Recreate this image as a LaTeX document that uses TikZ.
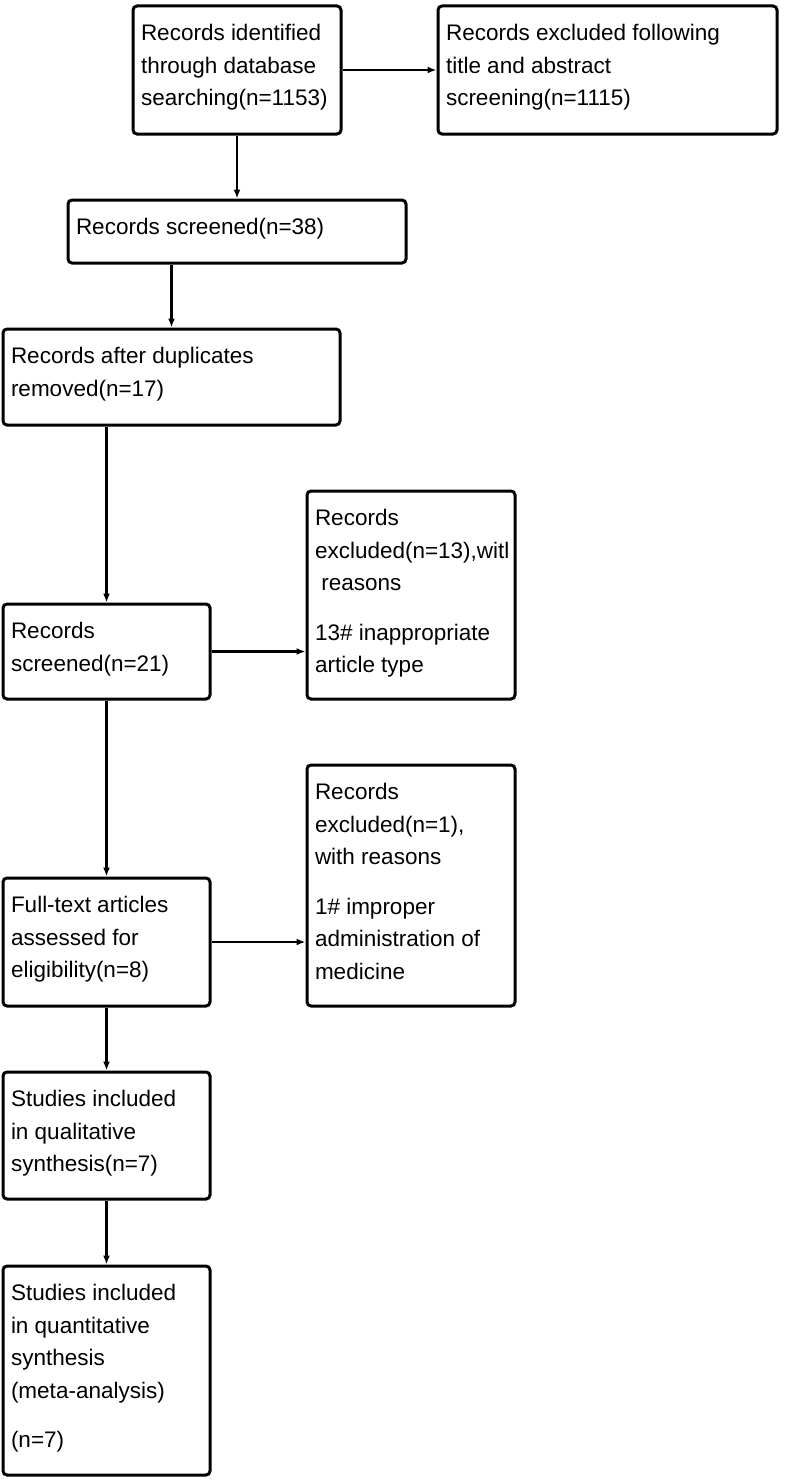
\documentclass[tikz,border=0pt]{standalone}
\usepackage{fontspec}
\setmainfont{Liberation Sans}
\usetikzlibrary{arrows.meta, calc}

% text block pinned to the top of a box of given width and height
\newcommand{\boxtext}[3]{\parbox[c][#2pt][t]{#1pt}{\vspace*{12pt}\strut#3}}

\begin{document}
\begin{tikzpicture}[x=1pt, y=-1pt,
    box/.style={draw, line width=3pt, rounded corners=4pt, inner xsep=8pt, inner ysep=0pt,
      font=\fontsize{22.5}{32.5}\selectfont},
    arrow/.style={-{Latex[length=9pt, width=7pt]}, line width=2.6pt}
  ]
  \useasboundingbox (0,0) rectangle (786,1480);

  % --- IDENTIFICATION ---
  \node[box] (ident) at (237,70) {\boxtext{192}{128}{Records identified\\through database\\searching(n=1153)}};
  \node[box] (exclTitle) at (607.5,70) {\boxtext{323}{128}{Records excluded following\\title and abstract\\screening(n=1115)}};
  \node[box] (screen38) at (237,231.5) {\boxtext{322}{63}{Records screened(n=38)}};
  \node[box] (dupl) at (171.5,377) {\boxtext{321}{96}{Records after duplicates\\removed(n=17)}};

  % --- SCREENING ---
  \node[box] (screen21) at (106.5,651.5) {\boxtext{191}{95}{Records\\screened(n=21)}};
  \node[box] (excl13) at (411,595) {\boxtext{192}{208}{Records\\excluded(n=13),witl\\\hspace*{0.28em}reasons\\[17pt]13\# inappropriate\\article type}};

  % --- ELIGIBILITY ---
  \node[box] (fulltext) at (106.5,942) {\boxtext{191}{128}{Full-text articles\\assessed for\\eligibility(n=8)}};
  \node[box] (excl1) at (411,885.5) {\boxtext{192}{241}{Records\\excluded(n=1),\\with reasons\\[17pt]1\# improper\\administration of\\medicine}};

  % --- INCLUDED ---
  \node[box] (qual) at (106.5,1135.5) {\boxtext{191}{127}{Studies included\\in qualitative\\synthesis(n=7)}};
  \node[box] (quant) at (106.5,1370.5) {\boxtext{191}{209}{Studies included\\in quantitative\\synthesis\\(meta-analysis)\\[17pt](n=7)}};

  % Connectors
  \draw[arrow] (ident) -- (exclTitle);
  \draw[arrow] (ident) -- (screen38);
  \draw[arrow] (screen38.south -| dupl.north) -- (dupl.north);
  \draw[arrow] (dupl.south -| screen21.north) -- (screen21.north);
  \draw[arrow] (screen21.east) -- (screen21.east -| excl13.west);
  \draw[arrow] (screen21) -- (fulltext);
  \draw[arrow] (fulltext.east) -- (fulltext.east -| excl1.west);
  \draw[arrow] (fulltext) -- (qual);
  \draw[arrow] (qual) -- (quant);
\end{tikzpicture}
\end{document}
